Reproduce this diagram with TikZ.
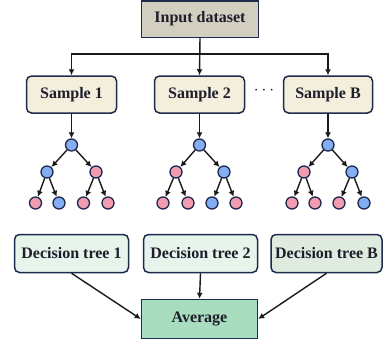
\documentclass[tikz,border=0pt]{standalone}
\usepackage{fontspec}
\setmainfont{Liberation Serif}
\usetikzlibrary{arrows.meta}
\definecolor{edgec}{HTML}{1F2A4F}
\definecolor{inpfill}{HTML}{D3CFC0}
\definecolor{smpfill}{HTML}{F4EEDC}
\definecolor{dtfill}{HTML}{E6F4EC}
\definecolor{dtbfill}{HTML}{E0EBDF}
\definecolor{avgfill}{HTML}{A8DDC0}
\definecolor{bluec}{HTML}{84AEF4}
\definecolor{pinkc}{HTML}{F29CB0}
\definecolor{txtc}{HTML}{1E1E2A}
\definecolor{arrc}{HTML}{1A1A1A}
\begin{document}
\begin{tikzpicture}[x=1pt,y=-1pt,
  box/.style={draw=edgec,line width=1.5pt,inner sep=0pt,text=txtc,
    font=\fontsize{16}{18}\selectfont\bfseries,minimum height=37pt},
  rbox/.style={box,rounded corners=5pt},
  arr/.style={draw=arrc,line width=1.4pt,-{Latex[length=6pt,width=6pt]}},
  bn/.style={circle,draw=edgec,line width=1.3pt,fill=bluec,minimum size=12pt,inner sep=0pt},
  pn/.style={circle,draw=edgec,line width=1.3pt,fill=pinkc,minimum size=12pt,inner sep=0pt}]
\useasboundingbox (0,0) rectangle (383,343);
% top
\node[box,fill=inpfill,minimum width=117pt,minimum height=36.5pt] (inp) at (200,19) {Input dataset};
\node[rbox,fill=smpfill,minimum width=90pt] (s1) at (71.5,94.5) {Sample 1};
\node[rbox,fill=smpfill,minimum width=90pt] (s2) at (199.5,94.5) {Sample 2};
\node[rbox,fill=smpfill,minimum width=89pt] (s3) at (328,94.5) {Sample B};
\node[text=txtc,font=\fontsize{18}{20}\selectfont] (dots) at (264,90.5) {$\cdots$};
\coordinate (j) at (200,54);
\draw[arr] (inp.south) -- (s2.north);
\draw[arr] (j) -| (s1.north);
\draw[arr] (j) -| (s3.north);
% trees
\foreach \k/\rx/\la/\lb/\qa/\qb/\qc/\qd/\qe/\qf/\xa/\xb/\xc/\xd/\sm in
  {1/71.5/47/96/bn/pn/pn/bn/pn/pn/35.5/59/83.5/108/s1,
   2/199.5/176/224/pn/bn/pn/pn/bn/pn/163/188/212/236/s2,
   3/328/304/352/pn/bn/pn/pn/pn/bn/292/315/339/364/s3}{
  \node[bn] (r\k) at (\rx,145) {};
  \node[\qa] (a\k) at (\la,172) {};
  \node[\qb] (b\k) at (\lb,172) {};
  \node[\qc] (c\k) at (\xa,203) {};
  \node[\qd] (d\k) at (\xb,203) {};
  \node[\qe] (e\k) at (\xc,203) {};
  \node[\qf] (f\k) at (\xd,203) {};
  \draw[arr] (\sm.south) -- (r\k);
  \draw[arr] (r\k) -- (a\k);
  \draw[arr] (r\k) -- (b\k);
  \draw[arr] (a\k) -- (c\k);
  \draw[arr] (a\k) -- (d\k);
  \draw[arr] (b\k) -- (e\k);
  \draw[arr] (b\k) -- (f\k);
}
% decision trees
\node[rbox,fill=dtfill,minimum width=114pt,minimum height=38pt] (t1) at (71.5,253.5) {Decision tree 1};
\node[rbox,fill=dtfill,minimum width=114pt,minimum height=38pt] (t2) at (200.5,253.5) {Decision tree 2};
\node[rbox,fill=dtbfill,minimum width=111pt,minimum height=38pt] (t3) at (326.5,253.5) {Decision tree B};
\node[box,fill=avgfill,minimum width=116pt,minimum height=39pt] (avg) at (199.5,319) {Average};
\draw[arr] (t1.south) -- (avg.west);
\draw[arr] (t2.south) -- (avg.north);
\draw[arr] (t3.south) -- (avg.east);
\end{tikzpicture}
\end{document}
